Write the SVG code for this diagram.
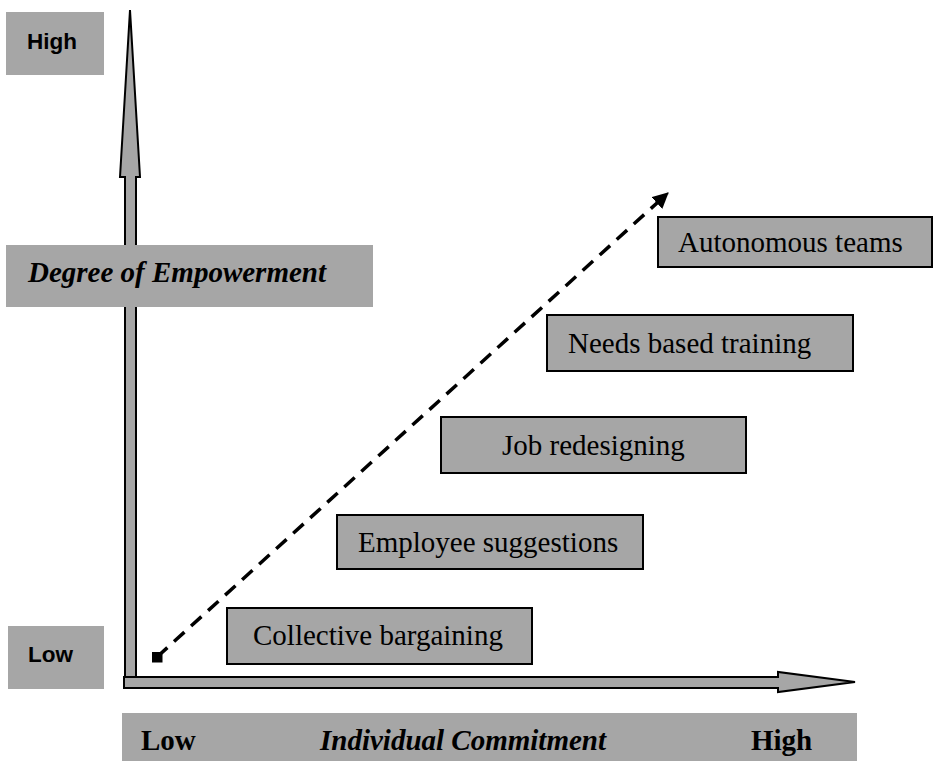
<svg xmlns="http://www.w3.org/2000/svg" width="934" height="761" viewBox="0 0 934 761">
<defs>
<style>
.lbl{fill:#a6a6a6;stroke:none}
.node{fill:#a6a6a6;stroke:#000;stroke-width:2}
.axis{fill:#a6a6a6;stroke:#000;stroke-width:2;stroke-linejoin:miter}
.t{font-family:"Liberation Serif","Times New Roman",serif;font-size:29px;fill:#000}
.tb{font-family:"Liberation Serif","Times New Roman",serif;font-size:29px;font-weight:bold;fill:#000}
.tbi{font-family:"Liberation Serif","Times New Roman",serif;font-size:29px;font-weight:bold;font-style:italic;fill:#000}
.s{font-family:"Liberation Sans",Arial,sans-serif;font-size:22.5px;font-weight:bold;fill:#000}
</style>
<marker id="ah" viewBox="0 0 16 16" refX="15" refY="8" markerWidth="16" markerHeight="16" orient="auto" markerUnits="userSpaceOnUse">
<path d="M0,0 L16,8 L0,16 z" fill="#000"/>
</marker>
<marker id="sq" viewBox="0 0 10 10" refX="5" refY="5" markerWidth="11" markerHeight="11" orient="0" markerUnits="userSpaceOnUse">
<rect x="0" y="0" width="10" height="10" fill="#000"/>
</marker>
</defs>
<rect width="934" height="761" fill="#fff"/>

<g id="axes">
<polygon class="axis" points="125,688 125,177 120,177 130,10 140,177 136,177 136,688"/>
<polygon class="axis" points="124,677 778,677 778,672 855,682 778,692 778,688 124,688"/>
</g>

<g id="label-high">
<rect class="lbl" x="6" y="12" width="98" height="63"/>
<text class="s" x="27" y="49">High</text>
</g>
<g id="label-low">
<rect class="lbl" x="8" y="626" width="96" height="63"/>
<text class="s" x="28" y="662">Low</text>
</g>
<g id="label-y">
<rect class="lbl" x="6" y="245" width="367" height="62"/>
<text class="tbi" x="28" y="282">Degree of Empowerment</text>
</g>
<g id="label-x">
<rect class="lbl" x="122" y="713" width="735" height="48"/>
<text class="tb" x="141" y="750">Low</text>
<text class="tbi" x="320" y="750">Individual Commitment</text>
<text class="tb" x="751" y="750">High</text>
</g>

<g id="connectors">
<line x1="157" y1="657" x2="668" y2="193" stroke="#000" stroke-width="3.5" stroke-dasharray="14,9" marker-start="url(#sq)" marker-end="url(#ah)"/>
</g>

<g id="n-autonomous">
<rect class="node" x="658" y="217" width="274" height="50"/>
<text class="t" x="678" y="252">Autonomous teams</text>
</g>
<g id="n-needs">
<rect class="node" x="547" y="315" width="306" height="56"/>
<text class="t" x="568" y="353">Needs based training</text>
</g>
<g id="n-job">
<rect class="node" x="441" y="417" width="305" height="56"/>
<text class="t" x="502" y="455">Job redesigning</text>
</g>
<g id="n-employee">
<rect class="node" x="337" y="515" width="306" height="54"/>
<text class="t" x="358" y="552">Employee suggestions</text>
</g>
<g id="n-collective">
<rect class="node" x="227" y="608" width="305" height="56"/>
<text class="t" x="253" y="645">Collective bargaining</text>
</g>
</svg>
